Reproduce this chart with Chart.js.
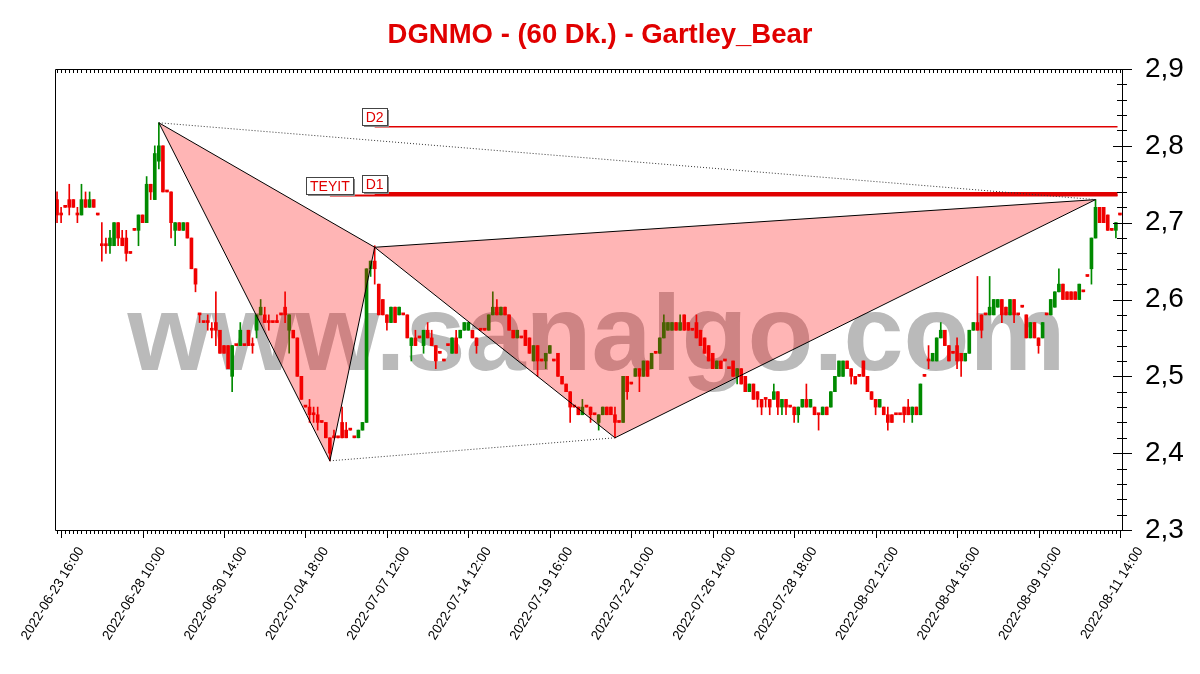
<!DOCTYPE html>
<html>
<head>
<meta charset="utf-8">
<title>DGNMO - (60 Dk.) - Gartley_Bear</title>
<script src="https://cdn.jsdelivr.net/npm/chart.js@4.4.1/dist/chart.umd.min.js"></script>
<style>
  html, body { margin: 0; padding: 0; background: #fff; }
  #wrap { width: 1200px; height: 674px; }
</style>
</head>
<body>
<div id="wrap"><canvas id="chart" width="1200" height="674"></canvas></div>
<script>
// DGNMO hourly candles (TL)
const opens = [2.73,2.71,2.72,2.73,2.73,2.71,2.71,2.73,2.72,2.73,
  2.71,2.67,2.67,2.67,2.67,2.70,2.68,2.68,2.66,2.69,
  2.69,2.71,2.70,2.75,2.73,2.78,2.80,2.74,2.74,2.69,
  2.70,2.69,2.70,2.68,2.64,2.58,2.57,2.57,2.56,2.57,
  2.56,2.54,2.54,2.50,2.54,2.54,2.54,2.56,2.54,2.56,
  2.58,2.58,2.57,2.57,2.57,2.58,2.59,2.56,2.56,2.55,
  2.50,2.46,2.46,2.45,2.45,2.44,2.44,2.42,2.42,2.42,
  2.44,2.43,2.43,2.42,2.42,2.43,2.44,2.64,2.65,2.62,
  2.60,2.58,2.57,2.59,2.58,2.58,2.58,2.54,2.55,2.55,
  2.54,2.56,2.55,2.54,2.53,2.52,2.54,2.53,2.55,2.55,
  2.56,2.56,2.56,2.55,2.56,2.56,2.56,2.58,2.59,2.58,
  2.59,2.58,2.56,2.55,2.55,2.56,2.55,2.52,2.54,2.52,
  2.52,2.53,2.52,2.53,2.50,2.49,2.48,2.46,2.46,2.45,
  2.46,2.46,2.45,2.44,2.45,2.46,2.46,2.45,2.44,2.44,
  2.50,2.49,2.50,2.51,2.50,2.52,2.51,2.53,2.53,2.55,
  2.56,2.56,2.57,2.56,2.58,2.57,2.56,2.57,2.56,2.55,
  2.54,2.53,2.51,2.52,2.52,2.51,2.52,2.50,2.51,2.50,
  2.48,2.49,2.48,2.47,2.47,2.47,2.47,2.48,2.46,2.47,
  2.46,2.46,2.45,2.46,2.47,2.46,2.46,2.45,2.45,2.46,
  2.46,2.48,2.50,2.50,2.52,2.51,2.50,2.50,2.52,2.50,
  2.48,2.47,2.46,2.46,2.45,2.45,2.45,2.45,2.46,2.46,
  2.45,2.46,2.45,2.50,2.52,2.52,2.52,2.55,2.56,2.54,
  2.53,2.54,2.53,2.52,2.53,2.56,2.57,2.58,2.58,2.58,
  2.58,2.59,2.60,2.59,2.58,2.60,2.58,2.59,2.58,2.55,
  2.57,2.55,2.55,2.58,2.58,2.59,2.61,2.62,2.61,2.61,
  2.61,2.60,2.61,2.63,2.64,2.68,2.72,2.72,2.71,2.69,
  2.69,2.71];
const highs = [2.74,2.72,2.72,2.75,2.73,2.72,2.75,2.74,2.74,2.73,
  2.71,2.70,2.68,2.69,2.70,2.70,2.69,2.69,2.66,2.69,
  2.71,2.71,2.76,2.75,2.80,2.83,2.80,2.74,2.74,2.70,
  2.70,2.70,2.70,2.68,2.64,2.58,2.57,2.58,2.57,2.61,
  2.56,2.54,2.54,2.54,2.54,2.57,2.54,2.56,2.55,2.58,
  2.60,2.59,2.58,2.57,2.58,2.58,2.61,2.58,2.56,2.55,
  2.50,2.46,2.47,2.46,2.46,2.44,2.44,2.42,2.43,2.42,
  2.46,2.44,2.43,2.42,2.43,2.44,2.64,2.65,2.67,2.62,
  2.60,2.58,2.59,2.59,2.59,2.58,2.58,2.55,2.56,2.55,
  2.56,2.57,2.56,2.54,2.53,2.52,2.54,2.55,2.56,2.56,
  2.57,2.57,2.56,2.55,2.56,2.56,2.58,2.61,2.60,2.59,
  2.59,2.58,2.56,2.56,2.55,2.56,2.55,2.54,2.54,2.52,
  2.53,2.54,2.52,2.53,2.50,2.49,2.48,2.46,2.46,2.47,
  2.46,2.46,2.45,2.45,2.46,2.46,2.46,2.46,2.44,2.50,
  2.50,2.49,2.51,2.51,2.52,2.52,2.53,2.53,2.55,2.58,
  2.57,2.57,2.57,2.58,2.58,2.57,2.56,2.58,2.56,2.55,
  2.54,2.53,2.52,2.52,2.52,2.51,2.52,2.51,2.51,2.50,
  2.49,2.49,2.48,2.47,2.47,2.47,2.49,2.48,2.47,2.47,
  2.46,2.46,2.46,2.47,2.49,2.47,2.46,2.45,2.46,2.46,
  2.48,2.50,2.52,2.52,2.52,2.51,2.50,2.50,2.52,2.50,
  2.48,2.47,2.47,2.46,2.46,2.45,2.45,2.45,2.46,2.47,
  2.46,2.46,2.49,2.50,2.54,2.53,2.55,2.57,2.56,2.54,
  2.53,2.55,2.53,2.53,2.56,2.57,2.63,2.58,2.58,2.63,
  2.60,2.60,2.60,2.59,2.60,2.60,2.58,2.59,2.58,2.57,
  2.57,2.55,2.57,2.58,2.60,2.61,2.64,2.62,2.61,2.61,
  2.61,2.62,2.61,2.63,2.68,2.73,2.72,2.72,2.71,2.69,
  2.70,2.71];
const lows = [2.70,2.70,2.72,2.71,2.72,2.70,2.71,2.72,2.72,2.72,
  2.71,2.65,2.66,2.66,2.67,2.67,2.67,2.65,2.66,2.69,
  2.67,2.70,2.70,2.73,2.73,2.77,2.74,2.74,2.68,2.67,
  2.69,2.69,2.68,2.64,2.61,2.57,2.57,2.56,2.55,2.54,
  2.53,2.53,2.51,2.48,2.54,2.54,2.54,2.54,2.53,2.55,
  2.58,2.57,2.56,2.57,2.57,2.58,2.57,2.53,2.55,2.50,
  2.47,2.46,2.44,2.44,2.43,2.44,2.42,2.39,2.42,2.42,
  2.42,2.42,2.43,2.42,2.42,2.43,2.44,2.63,2.62,2.58,
  2.58,2.56,2.57,2.57,2.58,2.58,2.55,2.52,2.54,2.55,
  2.53,2.55,2.54,2.51,2.53,2.52,2.54,2.53,2.53,2.55,
  2.56,2.56,2.55,2.53,2.56,2.56,2.56,2.58,2.58,2.58,
  2.58,2.56,2.55,2.55,2.55,2.54,2.53,2.52,2.50,2.52,
  2.51,2.53,2.52,2.50,2.49,2.48,2.44,2.46,2.45,2.45,
  2.46,2.44,2.45,2.43,2.45,2.45,2.45,2.42,2.44,2.44,
  2.47,2.49,2.50,2.48,2.50,2.50,2.51,2.53,2.53,2.55,
  2.56,2.56,2.56,2.56,2.56,2.56,2.56,2.55,2.54,2.53,
  2.52,2.51,2.51,2.51,2.52,2.51,2.50,2.49,2.49,2.48,
  2.48,2.47,2.46,2.45,2.46,2.45,2.47,2.45,2.45,2.45,
  2.46,2.44,2.44,2.46,2.46,2.46,2.45,2.43,2.45,2.45,
  2.46,2.48,2.50,2.50,2.51,2.49,2.49,2.50,2.50,2.48,
  2.47,2.45,2.46,2.45,2.43,2.44,2.45,2.45,2.44,2.45,
  2.44,2.45,2.45,2.50,2.51,2.52,2.52,2.55,2.54,2.52,
  2.53,2.51,2.50,2.52,2.53,2.56,2.56,2.55,2.58,2.58,
  2.58,2.59,2.57,2.58,2.58,2.57,2.58,2.59,2.55,2.55,
  2.55,2.53,2.55,2.58,2.58,2.59,2.61,2.60,2.60,2.60,
  2.60,2.60,2.61,2.63,2.62,2.68,2.70,2.70,2.69,2.69,
  2.68,2.71];
const closes = [2.71,2.71,2.72,2.72,2.72,2.71,2.73,2.72,2.73,2.72,
  2.71,2.67,2.67,2.68,2.70,2.68,2.67,2.66,2.66,2.69,
  2.71,2.70,2.75,2.74,2.79,2.80,2.74,2.74,2.70,2.70,
  2.69,2.70,2.68,2.64,2.62,2.58,2.57,2.57,2.56,2.56,
  2.53,2.53,2.51,2.54,2.54,2.56,2.54,2.54,2.54,2.58,
  2.59,2.57,2.57,2.57,2.57,2.58,2.58,2.58,2.55,2.50,
  2.47,2.46,2.45,2.45,2.44,2.44,2.42,2.40,2.42,2.42,
  2.42,2.42,2.43,2.42,2.43,2.44,2.64,2.65,2.64,2.58,
  2.58,2.57,2.59,2.57,2.59,2.58,2.55,2.55,2.54,2.55,
  2.56,2.55,2.54,2.52,2.53,2.52,2.54,2.55,2.53,2.56,
  2.57,2.57,2.55,2.54,2.56,2.56,2.58,2.59,2.58,2.59,
  2.58,2.56,2.55,2.56,2.55,2.54,2.53,2.54,2.52,2.52,
  2.53,2.54,2.52,2.50,2.49,2.48,2.46,2.46,2.45,2.46,
  2.46,2.45,2.45,2.45,2.46,2.45,2.45,2.44,2.44,2.50,
  2.48,2.49,2.51,2.50,2.52,2.50,2.53,2.53,2.55,2.57,
  2.57,2.57,2.56,2.57,2.56,2.56,2.56,2.55,2.54,2.53,
  2.52,2.51,2.52,2.51,2.52,2.51,2.50,2.51,2.49,2.48,
  2.49,2.47,2.47,2.46,2.47,2.46,2.48,2.46,2.47,2.46,
  2.46,2.45,2.46,2.47,2.46,2.47,2.45,2.45,2.46,2.45,
  2.48,2.50,2.52,2.52,2.51,2.50,2.49,2.50,2.50,2.48,
  2.47,2.46,2.47,2.45,2.44,2.44,2.45,2.45,2.45,2.45,
  2.46,2.45,2.49,2.50,2.52,2.53,2.55,2.56,2.54,2.52,
  2.53,2.52,2.52,2.53,2.56,2.57,2.56,2.56,2.58,2.59,
  2.60,2.60,2.58,2.58,2.60,2.58,2.58,2.59,2.55,2.57,
  2.55,2.54,2.57,2.58,2.60,2.61,2.62,2.60,2.60,2.60,
  2.60,2.62,2.61,2.63,2.68,2.72,2.70,2.70,2.69,2.69,
  2.70,2.71];

// time axis labels and the bar each one belongs to
const dateLabels = ['2022-06-23 16:00', '2022-06-28 10:00', '2022-06-30 14:00', '2022-07-04 18:00',
  '2022-07-07 12:00', '2022-07-14 12:00', '2022-07-19 16:00', '2022-07-22 10:00', '2022-07-26 14:00',
  '2022-07-28 18:00', '2022-08-02 12:00', '2022-08-04 16:00', '2022-08-09 10:00', '2022-08-11 14:00'];
const dateBars = [1, 21, 41, 61, 81, 101, 121, 141, 161, 181, 201, 221, 241, 261];

// Gartley points X A B C D
const pointBars = [25, 67, 78, 137, 255];
const pointPrices = [2.83, 2.39, 2.668, 2.42, 2.73];

// target levels
const levelNames = ['D2', 'TEYIT', 'D1'];
const levelPrices = [2.825, 2.7353, 2.7372];
const levelStart = [78, 67, 78];
const levelEnd = 260.4;
const levelWidth = [1.5, 2, 4];

const FONT = "'Liberation Sans', Arial, sans-serif";
const UP = '#008a00', DOWN = '#f00000', TAG_RED = '#e00000';

Chart.defaults.font.family = FONT;

const pt = k => ({ x: pointBars[k], y: pointPrices[k] });
const candleColors = opens.map((o, i) => closes[i] > o ? UP : DOWN);

const watermark = {
  id: 'watermark',
  beforeDatasetsDraw(chart) {
    const { ctx, chartArea: a } = chart;
    ctx.save();
    ctx.font = 'bold 108px ' + FONT;
    ctx.fillStyle = '#bababa';
    ctx.textAlign = 'center';
    ctx.textBaseline = 'alphabetic';
    ctx.fillText('www.sanalgo.com', (a.left + a.right) / 2 + 8, a.top + 301);
    ctx.restore();
  }
};

const frame = {
  id: 'frame',
  afterDatasetsDraw(chart) {
    const { ctx, chartArea: a, scales: { x, y } } = chart;
    ctx.save();
    ctx.strokeStyle = '#000';
    ctx.lineWidth = 1;
    ctx.beginPath();
    ctx.rect(a.left + 0.5, a.top + 0.5, a.right - a.left, a.bottom - a.top);
    for (let i = 0; i < opens.length; i++) {
      const px = Math.round(x.getPixelForValue(i)) + 0.5;
      const len = dateBars.includes(i) ? 8 : 4;
      ctx.moveTo(px, a.bottom); ctx.lineTo(px, a.bottom + len);
      ctx.moveTo(px, a.top); ctx.lineTo(px, a.top + 4);
    }
    // price ticks across the right edge, every 0.02
    for (let k = 0; k <= 30; k++) {
      const py = Math.round(y.getPixelForValue(2.3 + k * 0.02)) + 0.5;
      const major = k % 5 === 0;
      ctx.moveTo(a.right - (major ? 9 : 5), py);
      ctx.lineTo(a.right + (major ? 10 : 5), py);
    }
    ctx.stroke();
    ctx.restore();
  }
};

const levelTags = {
  id: 'levelTags',
  afterDatasetsDraw(chart) {
    const { ctx, scales: { x, y } } = chart;
    ctx.save();
    ctx.font = '14px ' + FONT;
    ctx.textAlign = 'center';
    ctx.textBaseline = 'middle';
    levelNames.forEach((name, i) => {
      const cx = x.getPixelForValue(levelStart[i]);
      const ly = y.getPixelForValue(levelPrices[i]);
      const w = Math.round(ctx.measureText(name).width + 7), h = 17;
      const left = Math.round(cx - w / 2) + 0.5, top = Math.round(ly - h - 2) + 0.5;
      ctx.fillStyle = '#888';
      ctx.fillRect(left + 1.5, top + 1.5, w, h);
      ctx.fillStyle = '#fff';
      ctx.fillRect(left, top, w, h);
      ctx.strokeStyle = '#444';
      ctx.lineWidth = 1;
      ctx.strokeRect(left, top, w, h);
      ctx.fillStyle = TAG_RED;
      ctx.fillText(name, cx, top + h / 2 + 1);
    });
    ctx.restore();
  }
};

const datasets = [
  {
    type: 'bar', order: 5, grouped: false,
    data: lows.map((l, i) => ({ x: i, y: [l, highs[i]] })),
    backgroundColor: candleColors, barThickness: 1, minBarLength: 1
  },
  {
    type: 'bar', order: 5, grouped: false,
    data: opens.map((o, i) => ({ x: i, y: [o, closes[i]] })),
    backgroundColor: candleColors, barThickness: 3, minBarLength: 2
  },
  {
    type: 'line', order: 2, data: [pt(0), pt(1), pt(2), pt(0)],
    fill: 'shape', backgroundColor: 'rgba(255,0,0,0.29)',
    borderColor: '#000', borderWidth: 1, pointRadius: 0, tension: 0
  },
  {
    type: 'line', order: 2, data: [pt(2), pt(3), pt(4), pt(2)],
    fill: 'shape', backgroundColor: 'rgba(255,0,0,0.29)',
    borderColor: '#000', borderWidth: 1, pointRadius: 0, tension: 0
  },
  {
    type: 'line', order: 1, data: [pt(0), pt(4)], fill: false,
    borderColor: '#333', borderWidth: 1, borderDash: [1, 2], pointRadius: 0
  },
  {
    type: 'line', order: 1, data: [pt(1), pt(3)], fill: false,
    borderColor: '#333', borderWidth: 1, borderDash: [1, 2], pointRadius: 0
  }
];
levelNames.forEach((name, i) => {
  datasets.push({
    type: 'line', order: 1, fill: false, pointRadius: 0,
    data: [{ x: levelStart[i], y: levelPrices[i] }, { x: levelEnd, y: levelPrices[i] }],
    borderColor: TAG_RED, borderWidth: levelWidth[i]
  });
});
// everything is priced on the right-hand axis
datasets.forEach(d => { d.xAxisID = 'x'; d.yAxisID = 'y'; });

new Chart(document.getElementById('chart'), {
  type: 'bar',
  data: { datasets },
  options: {
    responsive: false,
    animation: false,
    devicePixelRatio: 1,
    events: [],
    layout: { padding: 0 },
    plugins: {
      legend: { display: false },
      tooltip: { enabled: false },
      title: {
        display: true,
        text: 'DGNMO - (60 Dk.) - Gartley_Bear',
        color: TAG_RED,
        font: { size: 27.5, weight: 'bold', lineHeight: 1.2 },
        padding: { top: 18.7, bottom: 17.3 }
      }
    },
    scales: {
      x: {
        type: 'linear', min: -0.5, max: opens.length - 0.5, offset: false,
        grid: { display: false, drawTicks: false },
        border: { display: false },
        afterBuildTicks: s => { s.ticks = dateBars.map(v => ({ value: v })); },
        afterFit: s => { s.height = 144; s.paddingLeft = 0; s.paddingRight = 0; },
        ticks: {
          autoSkip: false, minRotation: 58, maxRotation: 58,
          padding: 14, labelOffset: 20, color: '#000',
          font: { size: 13.5 },
          callback: (v, i) => dateLabels[i]
        }
      },
      y: {
        type: 'linear', position: 'right', min: 2.3, max: 2.9,
        grid: { display: false, drawTicks: false },
        border: { display: false },
        afterFit: s => { s.width = 78; s.paddingTop = 0; s.paddingBottom = 0; },
        ticks: {
          stepSize: 0.1, padding: 23, color: '#000',
          font: { size: 28 },
          callback: v => v.toFixed(1).replace('.', ',')
        }
      },
      // empty left margin axis, keeps the plot off the left edge
      yLeft: {
        type: 'linear', position: 'left', display: true, min: 0, max: 1,
        grid: { display: false, drawTicks: false },
        border: { display: false },
        ticks: { display: false },
        afterFit: s => { s.width = 55; s.paddingTop = 0; s.paddingBottom = 0; }
      }
    }
  },
  plugins: [watermark, frame, levelTags]
});
</script>
</body>
</html>
